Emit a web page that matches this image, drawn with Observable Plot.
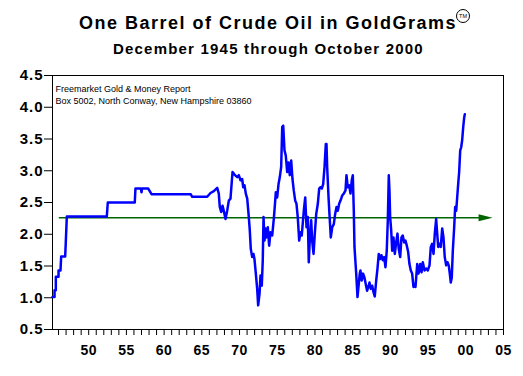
<!DOCTYPE html>
<html>
<head>
<meta charset="utf-8">
<script src="https://cdn.jsdelivr.net/npm/d3@7"></script>
<script src="https://cdn.jsdelivr.net/npm/@observablehq/plot@0.6"></script>
<style>
  body { margin: 0; background: #fff; font-family: Arial, "Liberation Sans", sans-serif; }
  #wrap { position: relative; width: 523px; height: 376px; overflow: hidden; }
  #title { position: absolute; left: 79px; top: 14px; font-size: 18px; line-height: 18px; font-weight: bold; letter-spacing: 1.5px; white-space: nowrap; color: #000; }
  #sub { position: absolute; left: 113px; top: 41px; font-size: 15px; line-height: 15px; font-weight: bold; letter-spacing: 1.2px; white-space: nowrap; color: #000; }
  #tm { position: absolute; left: 456px; top: 9px; width: 12px; height: 12px; border: 1px solid #000; border-radius: 50%; font-size: 5.5px; line-height: 12px; text-align: center; font-weight: normal; color: #000; }
  #chart { position: absolute; left: 0; top: 62px; }
  #chart g[aria-label="y-axis tick label"] text { letter-spacing: 1px; }
  #chart g[aria-label="x-axis tick label"] text { letter-spacing: 0.5px; }
</style>
</head>
<body>
<div id="wrap">
  <div id="title">One Barrel of Crude Oil in GoldGrams</div>
  <div id="tm">TM</div>
  <div id="sub">December 1945 through October 2000</div>
  <div id="chart"></div>
</div>
<script>
// ---- data ----
const oilYears = [
  1945.20,1945.47,1945.47,1945.64,1945.64,1946.00,1946.00,1946.26,1946.35,1946.88,
  1946.96,1947.10,1952.40,1952.53,1956.11,1956.20,1956.93,1957.00,1957.07,1957.89,
  1958.33,1963.54,1963.70,1965.71,1966.15,1966.59,1967.04,1967.25,1967.38,1967.57,
  1967.74,1967.91,1968.14,1968.36,1968.58,1968.80,1969.07,1969.33,1969.69,1969.90,
  1970.13,1970.35,1970.49,1970.66,1970.83,1971.02,1971.23,1971.36,1971.49,1971.68,
  1971.85,1971.98,1972.16,1972.34,1972.47,1972.65,1972.78,1972.95,1973.08,1973.18,
  1973.31,1973.44,1973.57,1973.75,1973.93,1974.10,1974.33,1974.54,1974.67,1974.81,
  1974.99,1975.17,1975.34,1975.52,1975.66,1975.79,1975.96,1976.13,1976.32,1976.49,
  1976.66,1976.85,1977.02,1977.19,1977.38,1977.55,1977.72,1977.91,1978.08,1978.25,
  1978.52,1978.71,1978.88,1979.05,1979.18,1979.31,1979.50,1979.63,1979.81,1979.98,
  1980.17,1980.38,1980.56,1980.73,1980.91,1981.09,1981.27,1981.44,1981.53,1981.62,
  1981.80,1981.97,1982.10,1982.29,1982.50,1982.68,1982.86,1983.03,1983.21,1983.39,
  1983.61,1983.82,1984.05,1984.18,1984.35,1984.54,1984.71,1984.88,1985.02,1985.15,
  1985.24,1985.47,1985.64,1985.81,1985.94,1986.03,1986.20,1986.38,1986.56,1986.91,
  1987.13,1987.23,1987.40,1987.59,1987.76,1987.93,1988.12,1988.29,1988.46,1988.65,
  1988.82,1989.00,1989.18,1989.35,1989.52,1989.66,1989.79,1989.88,1989.97,1990.11,
  1990.24,1990.41,1990.59,1990.77,1990.94,1991.11,1991.30,1991.47,1991.64,1991.83,
  1992.00,1992.18,1992.36,1992.53,1992.71,1992.89,1993.06,1993.24,1993.33,1993.56,
  1993.73,1993.96,1994.13,1994.30,1994.53,1994.75,1994.96,1995.19,1995.36,1995.54,
  1995.72,1995.89,1996.07,1996.21,1996.34,1996.51,1996.68,1996.87,1997.04,1997.21,
  1997.40,1997.57,1997.74,1997.88,1998.01,1998.14,1998.28,1998.46,1998.59,1998.73,
  1998.86,1998.99,1999.12,1999.26,1999.39,1999.52,1999.66,1999.79,1999.87
];
const oilValues = [
  1.01,1.01,1.12,1.12,1.33,1.33,1.43,1.43,1.65,1.65,
  1.87,2.28,2.28,2.50,2.50,2.72,2.72,2.66,2.72,2.72,
  2.63,2.63,2.59,2.59,2.65,2.68,2.73,2.64,2.43,2.35,
  2.45,2.37,2.24,2.37,2.53,2.56,2.98,2.94,2.90,2.93,
  2.85,2.87,2.74,2.77,2.64,2.56,2.27,2.06,1.77,1.64,
  1.69,1.61,1.38,1.14,0.88,1.06,1.35,1.19,1.59,2.27,
  1.90,2.09,1.95,2.11,1.82,2.03,1.98,2.24,2.43,2.66,
  2.58,2.79,2.90,3.06,3.69,3.71,3.32,3.24,2.98,3.13,
  2.93,3.16,2.87,2.69,2.53,2.48,2.27,1.90,2.03,1.98,
  2.37,2.58,2.11,2.27,1.56,1.90,2.22,1.90,1.69,2.01,
  2.32,2.48,2.72,2.74,2.72,2.79,3.06,3.42,3.42,3.06,
  2.58,2.22,1.95,2.11,2.16,2.32,2.43,2.37,2.48,2.53,
  2.61,2.64,2.69,2.93,2.74,2.77,2.64,2.85,2.93,2.37,
  1.80,1.38,1.01,1.22,1.38,1.43,1.27,1.38,1.32,1.11,
  1.19,1.24,1.14,1.19,1.09,1.02,1.27,1.46,1.69,1.61,
  1.67,1.59,1.64,1.48,1.74,2.22,2.93,2.69,2.27,2.06,
  1.74,1.95,1.69,1.87,2.01,1.77,1.64,1.95,1.98,1.87,
  1.90,1.82,1.72,1.53,1.43,1.38,1.17,1.22,1.17,1.53,
  1.38,1.53,1.40,1.56,1.43,1.46,1.43,1.51,1.80,1.85,
  1.69,2.01,2.24,2.01,1.80,1.85,1.80,2.09,1.95,1.64,
  1.51,1.56,1.51,1.38,1.24,1.32,1.74,2.11,2.43,2.37,
  2.58,2.79,2.98,3.32,3.37,3.48,3.69,3.84,3.89
];
// average-level reference arrow
const refValue = 2.26;
const refStart = 1946.1;
const refEnd = 2003.55;

// axis ticks
const yTicks = [0.5, 1.0, 1.5, 2.0, 2.5, 3.0, 3.5, 4.0, 4.5];
const xLabelYears = [1950, 1955, 1960, 1965, 1970, 1975, 1980, 1985, 1990, 1995, 2000, 2005];
const xLabelText = ["50", "55", "60", "65", "70", "75", "80", "85", "90", "95", "00", "05"];
const xMinorTicks = d3.range(1946, 2006);
const noteText = "Freemarket Gold & Money Report\nBox 5002, North Conway, New Hampshire 03860";

// ---- build ----
const oil = oilYears.map((year, i) => ({year, value: oilValues[i]}));
const labelOf = new Map(xLabelYears.map((y, i) => [y, xLabelText[i]]));

// filled arrowhead pointing right, tip at the anchor point
const arrowHead = {
  draw(context) {
    context.moveTo(0, 0);
    context.lineTo(-14, -3.5);
    context.lineTo(-14, 3.5);
    context.closePath();
  }
};

const chart = Plot.plot({
  width: 523,
  height: 314,
  marginTop: 13,
  marginBottom: 47,
  marginLeft: 52,
  marginRight: 20,
  style: {fontFamily: "Arial, 'Liberation Sans', sans-serif", background: "white", color: "black", overflow: "visible"},
  x: {domain: [1945.2, 2005], axis: null},
  y: {domain: [0.5, 4.5], axis: null},
  marks: [
    Plot.axisY({ticks: yTicks, tickSize: 8, tickPadding: 1, tickFormat: d => d.toFixed(1), fontSize: 15, fontWeight: "bold", label: null, stroke: "black"}),
    Plot.axisX({ticks: xMinorTicks, tickSize: 6, tickFormat: () => "", label: null, stroke: "black"}),
    Plot.axisX({ticks: xLabelYears, tickSize: 0, tickPadding: 16, tickFormat: d => labelOf.get(d), fontSize: 14, fontWeight: "bold", label: null}),
    Plot.frame({stroke: "black", strokeWidth: 1}),
    Plot.ruleY([refValue], {x1: refStart, x2: refEnd - 1.6, stroke: "#006400", strokeWidth: 1.5}),
    Plot.dot([refEnd], {x: d => d, y: () => refValue, symbol: arrowHead, r: 5, fill: "#006400", stroke: null}),
    Plot.line(oil, {x: "year", y: "value", stroke: "#0000ff", strokeWidth: 2.5, strokeLinejoin: "round"}),
    Plot.text([noteText], {frameAnchor: "top-left", dx: 3, dy: 8, fontSize: 9, lineHeight: 1.3, textAnchor: "start", fill: "black"})
  ]
});
document.getElementById("chart").appendChild(chart);
</script>
</body>
</html>
